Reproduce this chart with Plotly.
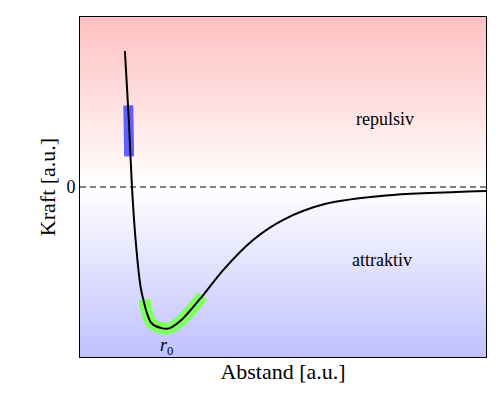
import plotly.graph_objects as go
import numpy as np

r = [1.106, 1.206, 1.28, 1.38, 1.51, 1.76, 2.01, 2.21, 2.51, 3.02, 3.52, 4.27, 5.03, 6.03, 7.54, 10.0]
F = [0.80, 0.38, 0.0, -0.34, -0.61, -0.80, -0.83, -0.83, -0.78, -0.64, -0.49, -0.31, -0.19, -0.10, -0.05, -0.024]
blue_r = [1.19, 1.21]
blue_F = [0.48, 0.18]
green_r = [1.58, 1.76, 2.01, 2.21, 2.51, 3.02]
green_F = [-0.66, -0.80, -0.83, -0.83, -0.78, -0.64]

font = "Liberation Serif"
bg_y = np.linspace(-1, 1, 101)
fig = go.Figure()
fig.add_trace(go.Heatmap(x=[0, 10], y=bg_y, z=[[v, v] for v in bg_y], zmin=-1, zmax=1,
                         colorscale=[[0, '#c0c0ff'], [0.5, 'white'], [1, '#ffc0c0']],
                         showscale=False, hoverinfo='skip', zsmooth='best'))
fig.add_trace(go.Scatter(x=[0, 10], y=[0, 0], mode='lines', line=dict(color='black', width=1, dash='6px,4px')))
fig.add_trace(go.Scatter(x=green_r, y=green_F, mode='lines', line=dict(color='#80ff60', width=12, shape='spline')))
fig.add_trace(go.Scatter(x=blue_r, y=blue_F, mode='lines', line=dict(color='#6060ff', width=10)))
fig.add_trace(go.Scatter(x=r, y=F, mode='lines', line=dict(color='black', width=2, shape='spline', smoothing=0.8)))
fig.add_annotation(x=7.5, y=0.4, text="repulsiv", showarrow=False, font=dict(size=18, family=font, color='black'))
fig.add_annotation(x=7.45, y=-0.43, text="attraktiv", showarrow=False, font=dict(size=18, family=font, color='black'))
fig.add_annotation(x=2.13, y=-0.94, text="<i>r</i><sub>0</sub>", showarrow=False, font=dict(size=18, family=font, color='black'))
fig.update_layout(width=492, height=392, showlegend=False, plot_bgcolor='white',
                  margin=dict(l=72, r=14, t=9, b=43, autoexpand=False), font=dict(family=font, size=18, color='black'))
fig.update_xaxes(range=[0, 10], showticklabels=False, ticks='', showgrid=False, zeroline=False, automargin=False,
                 showline=True, linecolor='black', mirror=True, title=dict(text="Abstand [a.u.]", standoff=6))
fig.update_yaxes(range=[-1, 1], tickvals=[0], ticktext=["0"], ticks='', showgrid=False, zeroline=False, automargin=False,
                 showline=True, linecolor='black', mirror=True, title=dict(text="Kraft [a.u.]", standoff=4))
fig.write_html("out.html")
